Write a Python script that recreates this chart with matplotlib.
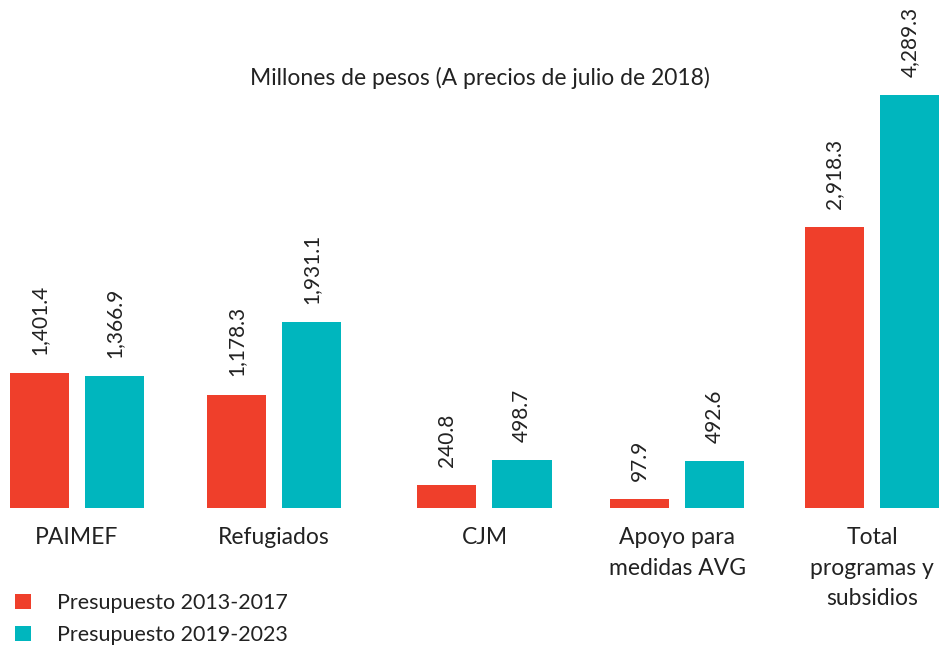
import numpy as np
import matplotlib.pyplot as plt

plt.rcParams['font.family'] = ['Lato', 'DejaVu Sans']

categories = ['PAIMEF', 'Refugiados', 'CJM', 'Apoyo para\nmedidas AVG', 'Total\nprogramas y\nsubsidios']
pres_2013 = [1401.4, 1178.3, 240.8, 97.9, 2918.3]
pres_2019 = [1366.9, 1931.1, 498.7, 492.6, 4289.3]
series_names = ['Presupuesto 2013-2017', 'Presupuesto 2019-2023']
colors = ['#EF3F2B', '#00B6BE']

# group centres (slightly uneven in the original layout)
x = np.array([0, 0.99, 2.05, 3.02, 4.0])

fig = plt.figure(figsize=(9.46, 6.46), dpi=100)
ax = fig.add_axes([0, 138 / 646, 1, 443 / 646])

w = 0.297
off = 0.189
b1 = ax.bar(x - off, pres_2013, w, color=colors[0], label=series_names[0])
b2 = ax.bar(x + off, pres_2019, w, color=colors[1], label=series_names[1])

for bars, vals in [(b1, pres_2013), (b2, pres_2019)]:
    for b, v in zip(bars, vals):
        ax.annotate(f'{v:,.1f}', (b.get_x() + b.get_width() / 2, v),
                    xytext=(0, 13), textcoords='offset points',
                    rotation=90, ha='center', va='bottom', fontsize=15, color='#222222')

ax.set_xlim(-77 / 198.75, (946 - 77) / 198.75)
ax.set_ylim(0, 4600)
ax.axis('off')

for xi, c in zip(x, categories):
    ax.annotate(c, (xi, 0), xytext=(0, -14), textcoords='offset points',
                ha='center', va='top', fontsize=16.5, color='#222222', linespacing=1.55)

fig.text(480 / 946, 1 - 78 / 646, 'Millones de pesos (A precios de julio de 2018)',
         ha='center', va='center', fontsize=16.5, color='#222222')

fig.legend(handles=[b1, b2], loc='upper left', bbox_to_anchor=(0.0, 1 - 578 / 646),
           frameon=False, fontsize=15.5, handlelength=0.75, handleheight=0.75,
           handletextpad=1.2, labelspacing=0.55, borderaxespad=0.3,
           labelcolor='#222222')

fig.savefig('out.png', dpi=100)
